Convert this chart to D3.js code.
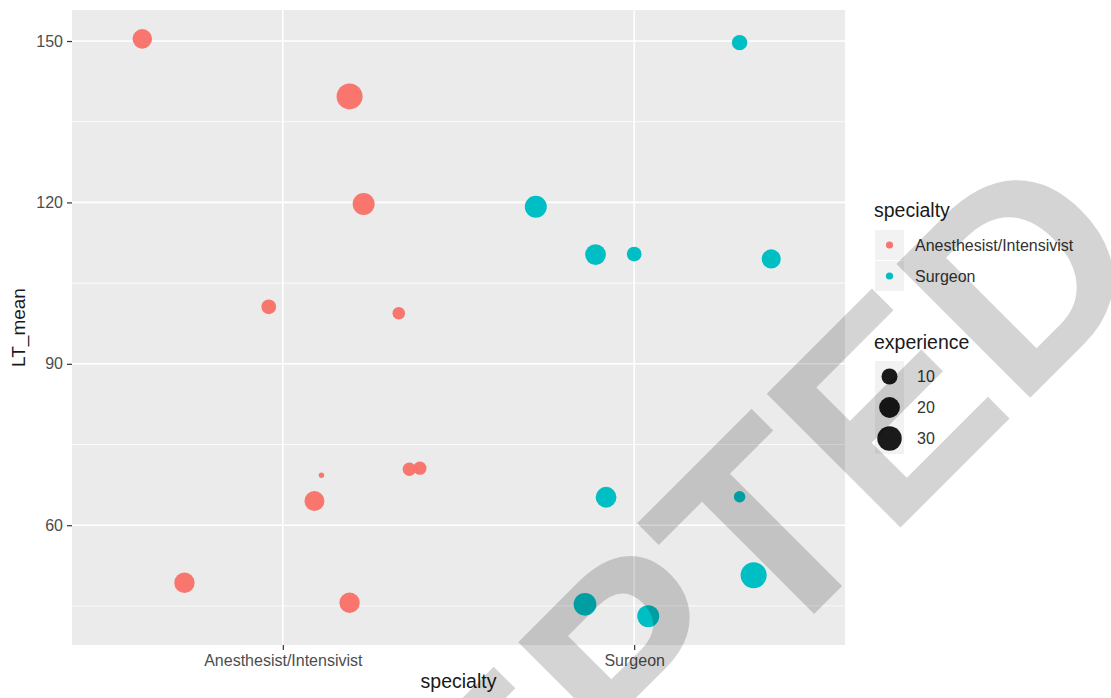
<!DOCTYPE html>
<html>
<head>
<meta charset="utf-8">
<title>LT_mean by specialty</title>
<script src="https://d3js.org/d3.v7.min.js"></script>
<style>
  body { margin: 0; background: #fff; }
  text { font-family: "Liberation Sans", Arial, sans-serif; }
</style>
</head>
<body>
<div id="chart"></div>
<script>
// categories and the jittered points (jitter, in category steps)
const categories = ["Anesthesist/Intensivist", "Surgeon"];
const specialty = [
  "Anesthesist/Intensivist", "Anesthesist/Intensivist", "Anesthesist/Intensivist",
  "Anesthesist/Intensivist", "Anesthesist/Intensivist", "Anesthesist/Intensivist",
  "Anesthesist/Intensivist", "Anesthesist/Intensivist", "Anesthesist/Intensivist",
  "Anesthesist/Intensivist", "Anesthesist/Intensivist",
  "Surgeon", "Surgeon", "Surgeon", "Surgeon", "Surgeon",
  "Surgeon", "Surgeon", "Surgeon", "Surgeon", "Surgeon"
];
const jitter = [-0.40, 0.19, 0.23, -0.04, 0.33, 0.11, 0.36, 0.39, 0.09, -0.28, 0.19,
                0.30, -0.28, -0.11, 0.00, 0.39, -0.08, 0.30, 0.34, -0.14, 0.04];
const ltMean = [150.4, 139.7, 119.7, 100.6, 99.4, 69.3, 70.4, 70.6, 64.5, 49.3, 45.6,
                149.7, 119.2, 110.3, 110.4, 109.5, 65.2, 65.3, 50.7, 45.3, 43.1];
const experience = [17, 35, 23, 8, 5, 1, 6, 6, 18, 19, 19,
                    9, 23, 20, 8, 16, 20, 4, 35, 25, 23];

const yTicks = [60, 90, 120, 150];
const yMinor = [45, 75, 105, 135];
const sizeBreaks = [10, 20, 30];
const colors = ["#F8766D", "#00BFC4"];

const W = 1111, H = 698;
const margin = {top: 10, right: 266, bottom: 53, left: 72};
const pw = W - margin.left - margin.right;
const ph = H - margin.top - margin.bottom;

const svg = d3.select("#chart").append("svg")
  .attr("width", W).attr("height", H);

const g = svg.append("g").attr("transform", `translate(${margin.left},${margin.top})`);

// scales
const x = d3.scalePoint().domain(categories).range([0, pw]).padding(0.6);
const [lo, hi] = d3.extent(ltMean);
const pad = (hi - lo) * 0.05;
const y = d3.scaleLinear().domain([lo - pad, hi + pad]).range([ph, 0]);
const color = d3.scaleOrdinal().domain(categories).range(colors);
const [eMin, eMax] = d3.extent(experience);
const rLin = d3.scaleLinear().domain([0, 1]).range([2.7, 13]);
const radius = e => rLin(Math.sqrt((e - eMin) / (eMax - eMin)));

// panel
g.append("rect").attr("width", pw).attr("height", ph).attr("fill", "#EBEBEB");

g.selectAll(".minor").data(yMinor).enter().append("line")
  .attr("x1", 0).attr("x2", pw)
  .attr("y1", d => y(d)).attr("y2", d => y(d))
  .attr("stroke", "#fff").attr("stroke-width", 0.8);

g.selectAll(".major").data(yTicks).enter().append("line")
  .attr("x1", 0).attr("x2", pw)
  .attr("y1", d => y(d)).attr("y2", d => y(d))
  .attr("stroke", "#fff").attr("stroke-width", 1.6);

g.selectAll(".vgrid").data(categories).enter().append("line")
  .attr("x1", d => x(d)).attr("x2", d => x(d))
  .attr("y1", 0).attr("y2", ph)
  .attr("stroke", "#fff").attr("stroke-width", 1.6);

// points
const pts = specialty.map((s, i) => ({s, j: jitter[i], v: ltMean[i], e: experience[i]}));
g.selectAll(".pt").data(pts).enter().append("circle")
  .attr("cx", d => x(d.s) + d.j * x.step())
  .attr("cy", d => y(d.v))
  .attr("r", d => radius(d.e))
  .attr("fill", d => color(d.s));

// axes
const yAxis = g.append("g")
  .call(d3.axisLeft(y).tickValues(yTicks).tickSize(5).tickPadding(4));
const xAxis = g.append("g").attr("transform", `translate(0,${ph})`)
  .call(d3.axisBottom(x).tickSize(5).tickPadding(5));
[yAxis, xAxis].forEach(a => {
  a.select(".domain").remove();
  a.selectAll(".tick line").attr("stroke", "#333").attr("stroke-width", 1.2);
  a.selectAll(".tick text").attr("fill", "#4D4D4D").style("font-size", "16px")
    .style("font-family", "'Liberation Sans', Arial, sans-serif");
});

svg.append("text")
  .attr("x", margin.left + pw / 2).attr("y", 688)
  .attr("text-anchor", "middle").style("font-size", "19.5px").attr("fill", "#1a1a1a")
  .text("specialty");

svg.append("text")
  .attr("transform", `translate(25,${margin.top + ph / 2}) rotate(-90)`)
  .attr("text-anchor", "middle").style("font-size", "19px").attr("fill", "#1a1a1a")
  .text("LT_mean");

// legends
const lg = svg.append("g").attr("transform", "translate(874,0)");
lg.append("text").attr("x", 0).attr("y", 217).style("font-size", "19.5px")
  .attr("fill", "#1a1a1a").text("specialty");
categories.forEach((c, i) => {
  const ky = 230 + i * 31;
  lg.append("rect").attr("x", 1).attr("y", ky).attr("width", 29).attr("height", 30)
    .attr("fill", "#F2F2F2");
  lg.append("circle").attr("cx", 15.5).attr("cy", ky + 15).attr("r", 3.6)
    .attr("fill", color(c));
  lg.append("text").attr("x", 41).attr("y", ky + 15).attr("dy", "0.35em")
    .style("font-size", "16px").attr("fill", "#333").text(c);
});

lg.append("text").attr("x", 0).attr("y", 349).style("font-size", "19.5px")
  .attr("fill", "#1a1a1a").text("experience");
sizeBreaks.forEach((b, i) => {
  const ky = 361 + i * 31;
  lg.append("rect").attr("x", 1).attr("y", ky).attr("width", 29).attr("height", 31)
    .attr("fill", "#F2F2F2");
  lg.append("circle").attr("cx", 15.5).attr("cy", ky + 15.5).attr("r", radius(b))
    .attr("fill", "#1a1a1a");
  lg.append("text").attr("x", 43).attr("y", ky + 15.5).attr("dy", "0.35em")
    .style("font-size", "16px").attr("fill", "#333").text(b);
});

// watermark stamped over the picture
svg.append("text")
  .attr("transform", "translate(88,1340) rotate(-45)")
  .style("font-size", "275px").style("font-weight", "bold")
  .attr("fill", "#000").attr("fill-opacity", 0.17)
  .text("ACCEPTED");
</script>
</body>
</html>
